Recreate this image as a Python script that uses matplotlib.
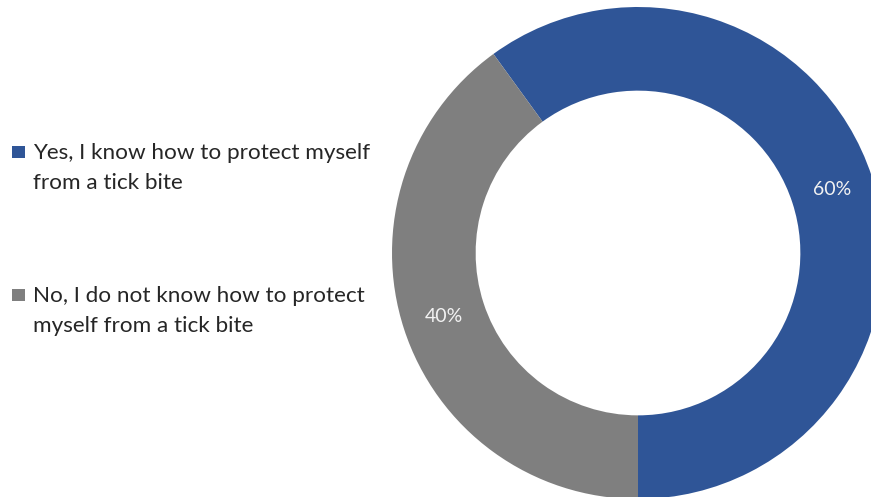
import matplotlib.pyplot as plt
from matplotlib.patches import Rectangle

# Survey answers and their shares
answers = ['Yes, I know how to protect myself\nfrom a tick bite',
           'No, I do not know how to protect\nmyself from a tick bite']
shares = [60, 40]
colors = ['#2F5597', '#7F7F7F']

W, H = 871, 497
fig = plt.figure(figsize=(W / 100, H / 100), dpi=100)
fig.patch.set_facecolor('white')

# Donut: centre at (638, 253) px, outer radius 246 px
cx, cy, R = 638, 253, 246
ax = fig.add_axes([(cx - R) / W, (H - cy - R) / H, 2 * R / W, 2 * R / H])
wedges, texts, autotexts = ax.pie(
    shares, colors=colors, startangle=126, counterclock=False,
    radius=1, autopct='%d%%', pctdistance=0.83,
    wedgeprops=dict(width=0.34, edgecolor='none'),
    textprops=dict(color='#F2F2F2', fontsize=14, family='Lato'))
ax.set_xlim(-1, 1)
ax.set_ylim(-1, 1)
ax.set_aspect('equal')
ax.axis('off')

# Legend drawn by hand on an overlay in pixel coordinates
lax = fig.add_axes([0, 0, 1, 1])
lax.set_xlim(0, W)
lax.set_ylim(H, 0)
lax.axis('off')

first_baselines = [159, 302]
line_gap = 30
for label, color, base in zip(answers, colors, first_baselines):
    lax.add_patch(Rectangle((12, base - 13), 13, 12, facecolor=color, edgecolor='none'))
    for i, line in enumerate(label.split('\n')):
        lax.text(33, base + i * line_gap, line, fontsize=16.2, family='Lato',
                 color='#262626', va='baseline', ha='left')

fig.savefig('out.png', dpi=100)
